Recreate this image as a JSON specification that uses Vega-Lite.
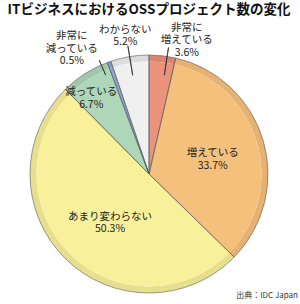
{
  "$schema": "https://vega.github.io/schema/vega-lite/v6.json",
  "autosize": {"type": "none"},
  "width": 298,
  "height": 260,
  "padding": {"top": 44, "left": 0, "right": 2, "bottom": 0},
  "background": "white",
  "title": {
    "text": "ITビジネスにおけるOSSプロジェクト数の変化",
    "font": "Noto Sans CJK JP",
    "fontSize": 13.5,
    "fontWeight": "bold",
    "color": "#111",
    "anchor": "middle",
    "frame": "group",
    "baseline": "bottom",
    "offset": -8
  },
  "data": {
    "values": [
      {"k": "非常に増えている", "v": 3.6, "o": 1, "label": "非常に\n増えている\n3.6%"},
      {"k": "増えている", "v": 33.7, "o": 2, "label": "増えている\n33.7%"},
      {"k": "あまり変わらない", "v": 50.3, "o": 3, "label": "あまり変わらない\n50.3%"},
      {"k": "減っている", "v": 6.7, "o": 4, "label": "減っている\n6.7%"},
      {"k": "非常に減っている", "v": 0.5, "o": 5, "label": "非常に\n減っている\n0.5%"},
      {"k": "わからない", "v": 5.2, "o": 6, "label": "わからない\n5.2%"}
    ]
  },
  "transform": [
    {"stack": "v", "groupby": [], "sort": [{"field": "o", "order": "ascending"}], "as": ["s", "e"]},
    {"calculate": "(datum.s + datum.e) / 2", "as": "mid"}
  ],
  "layer": [
    {
      "mark": {"type": "arc", "radius": 119, "radius2": 112.5, "strokeWidth": 0},
      "encoding": {
        "theta": {"field": "s", "type": "quantitative", "scale": {"domain": [0, 100], "range": [0, 6.283185307]}},
        "theta2": {"field": "e"},
        "color": {"field": "k", "type": "nominal", "legend": null,
          "scale": {"domain": ["非常に増えている", "増えている", "あまり変わらない", "減っている", "非常に減っている", "わからない"],
                    "range": ["#D8866E", "#E6B274", "#E6E08E", "#A0C8AA", "#7F9CD0", "#DCDCDC"]}}
      }
    },
    {
      "mark": {"type": "arc", "radius": 112.5, "strokeWidth": 0},
      "encoding": {
        "theta": {"field": "s", "type": "quantitative", "scale": {"domain": [0, 100], "range": [0, 6.283185307]}},
        "theta2": {"field": "e"},
        "fill": {"field": "k", "type": "nominal", "legend": null,
          "scale": {"domain": ["非常に増えている", "増えている", "あまり変わらない", "減っている", "非常に減っている", "わからない"],
                    "range": ["#E8937A", "#F4C07C", "#F8F09A", "#AED6B8", "#8BA8DC", "#F0F0F0"]}}
      }
    },
    {
      "mark": {"type": "arc", "radius": 119, "fillOpacity": 0, "stroke": "#5a5a5a", "strokeWidth": 0.6},
      "encoding": {
        "theta": {"field": "s", "type": "quantitative", "scale": {"domain": [0, 100], "range": [0, 6.283185307]}},
        "theta2": {"field": "e"}
      }
    },
    {
      "transform": [{"filter": "datum.o == 2"}],
      "mark": {"type": "text", "radius": 67, "thetaOffset": -0.03, "font": "Noto Sans CJK JP", "fontSize": 10.5, "lineHeight": 12.5, "color": "#222", "lineBreak": "\n"},
      "encoding": {
        "theta": {"field": "mid", "type": "quantitative", "scale": {"domain": [0, 100], "range": [0, 6.283185307]}},
        "text": {"field": "label"}
      }
    },
    {
      "transform": [{"filter": "datum.o == 3"}],
      "mark": {"type": "text", "radius": 58, "thetaOffset": -0.046, "font": "Noto Sans CJK JP", "fontSize": 10.5, "lineHeight": 12.5, "color": "#222", "lineBreak": "\n"},
      "encoding": {
        "theta": {"field": "mid", "type": "quantitative", "scale": {"domain": [0, 100], "range": [0, 6.283185307]}},
        "text": {"field": "label"}
      }
    },
    {
      "transform": [{"filter": "datum.o == 4"}],
      "mark": {"type": "text", "radius": 100, "thetaOffset": -0.047, "font": "Noto Sans CJK JP", "fontSize": 10.5, "lineHeight": 12.5, "color": "#222", "lineBreak": "\n"},
      "encoding": {
        "theta": {"field": "mid", "type": "quantitative", "scale": {"domain": [0, 100], "range": [0, 6.283185307]}},
        "text": {"field": "label"}
      }
    },
    {
      "transform": [{"filter": "datum.o == 1"}],
      "mark": {"type": "text", "radius": 151, "thetaOffset": 0.14, "font": "Noto Sans CJK JP", "fontSize": 10.5, "lineHeight": 12.5, "color": "#222", "lineBreak": "\n"},
      "encoding": {
        "theta": {"field": "mid", "type": "quantitative", "scale": {"domain": [0, 100], "range": [0, 6.283185307]}},
        "text": {"field": "label"}
      }
    },
    {
      "transform": [{"filter": "datum.o == 6"}],
      "mark": {"type": "text", "radius": 146, "font": "Noto Sans CJK JP", "fontSize": 10.5, "lineHeight": 12.5, "color": "#222", "lineBreak": "\n"},
      "encoding": {
        "theta": {"field": "mid", "type": "quantitative", "scale": {"domain": [0, 100], "range": [0, 6.283185307]}},
        "text": {"field": "label"}
      }
    },
    {
      "transform": [{"filter": "datum.o == 5"}],
      "mark": {"type": "text", "radius": 158, "thetaOffset": -0.168, "font": "Noto Sans CJK JP", "fontSize": 10.5, "lineHeight": 12.5, "color": "#222", "lineBreak": "\n"},
      "encoding": {
        "theta": {"field": "mid", "type": "quantitative", "scale": {"domain": [0, 100], "range": [0, 6.283185307]}},
        "text": {"field": "label"}
      }
    },
    {
      "transform": [{"filter": "datum.o == 1"}],
      "mark": {"type": "arc", "radius": 128, "radius2": 100, "thetaOffset": 0.04, "theta2Offset": 0.04, "fillOpacity": 0, "stroke": "#333", "strokeWidth": 0.8},
      "encoding": {
        "theta": {"field": "mid", "type": "quantitative", "scale": {"domain": [0, 100], "range": [0, 6.283185307]}},
        "theta2": {"field": "mid"}
      }
    },
    {
      "transform": [{"filter": "datum.o == 6"}],
      "mark": {"type": "arc", "radius": 130, "radius2": 100, "fillOpacity": 0, "stroke": "#333", "strokeWidth": 0.8},
      "encoding": {
        "theta": {"field": "mid", "type": "quantitative", "scale": {"domain": [0, 100], "range": [0, 6.283185307]}},
        "theta2": {"field": "mid"}
      }
    },
    {
      "transform": [{"filter": "datum.o == 5"}],
      "mark": {"type": "arc", "radius": 124, "radius2": 108, "thetaOffset": -0.07, "theta2Offset": -0.07, "fillOpacity": 0, "stroke": "#333", "strokeWidth": 0.8},
      "encoding": {
        "theta": {"field": "mid", "type": "quantitative", "scale": {"domain": [0, 100], "range": [0, 6.283185307]}},
        "theta2": {"field": "mid"}
      }
    },
    {
      "data": {"values": [{"t": "出典：IDC Japan"}]},
      "mark": {"type": "text", "x": {"expr": "width"}, "y": {"expr": "height - 8"}, "align": "right", "baseline": "middle", "font": "Noto Sans CJK JP", "fontSize": 8, "color": "#333"},
      "encoding": {"text": {"field": "t"}}
    }
  ],
  "resolve": {"scale": {"color": "independent", "fill": "independent"}},
  "config": {"view": {"stroke": null}}
}
